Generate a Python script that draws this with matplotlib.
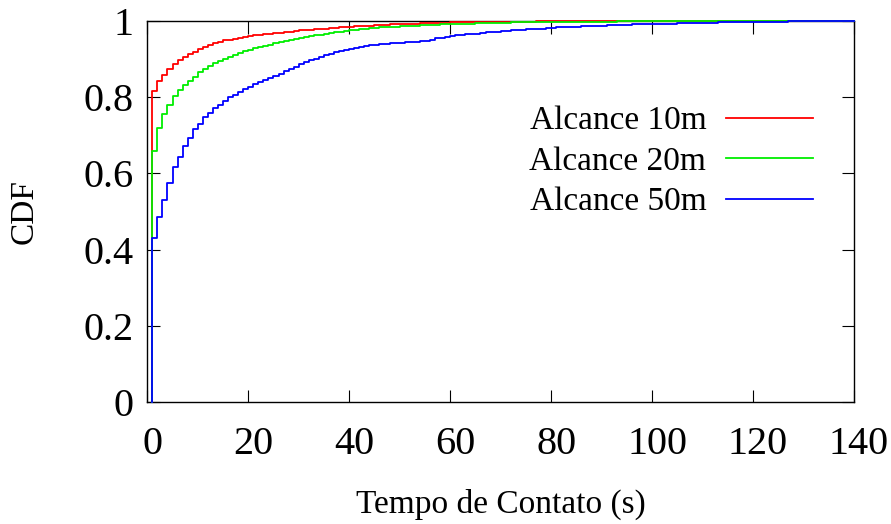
import matplotlib
matplotlib.use("Agg")
import matplotlib.pyplot as plt
from matplotlib.ticker import FormatStrFormatter
from matplotlib.transforms import ScaledTranslation

plt.rcParams['font.family'] = ['Liberation Serif', 'DejaVu Serif']

# contact time in seconds (1 s bins)
tempo = list(range(1, 141))

cdf_10m = [
    0.816, 0.843, 0.858, 0.874, 0.888, 0.898, 0.906, 0.912, 0.919, 0.926,
    0.932, 0.938, 0.943, 0.946, 0.949, 0.951, 0.953, 0.956, 0.958, 0.960,
    0.962, 0.963, 0.965, 0.966, 0.968, 0.969, 0.971, 0.972, 0.973, 0.975,
    0.976, 0.977, 0.978, 0.979, 0.980, 0.981, 0.982, 0.983, 0.984, 0.985,
    0.986, 0.987, 0.987, 0.988, 0.989, 0.990, 0.990, 0.991, 0.991, 0.992,
    0.992, 0.993, 0.993, 0.994, 0.994, 0.994, 0.995, 0.995, 0.995, 0.996,
    0.996, 0.996, 0.996, 0.997, 0.997, 0.997, 0.997, 0.997, 0.998, 0.998,
    0.998, 0.998, 0.998, 0.998, 0.998, 0.998, 0.999, 0.999, 0.999, 0.999,
    0.999, 0.999, 0.999, 0.999, 0.999, 0.999, 0.999, 0.999, 0.999, 0.999,
    0.999, 0.999, 0.999, 0.999, 0.999, 0.999, 0.999, 0.999, 0.999, 0.999,
    0.999, 0.999, 0.999, 0.999, 0.999, 0.999, 0.999, 0.999, 0.999, 0.999,
    0.999, 0.999, 0.999, 0.999, 0.999, 0.999, 0.999, 0.999, 0.999, 0.999,
    0.999, 0.999, 0.999, 0.999, 0.999, 0.999, 0.999, 0.999, 1.000, 1.000,
    1.000, 1.000, 1.000, 1.000, 1.000, 1.000, 1.000, 1.000, 1.000, 1.000,
]

cdf_20m = [
    0.660, 0.718, 0.755, 0.780, 0.802, 0.819, 0.831, 0.843, 0.854, 0.866,
    0.875, 0.882, 0.889, 0.895, 0.901, 0.906, 0.911, 0.916, 0.920, 0.924,
    0.928, 0.931, 0.935, 0.938, 0.942, 0.945, 0.947, 0.950, 0.953, 0.955,
    0.957, 0.960, 0.962, 0.964, 0.967, 0.969, 0.971, 0.972, 0.974, 0.976,
    0.977, 0.978, 0.979, 0.981, 0.982, 0.983, 0.984, 0.985, 0.985, 0.986,
    0.987, 0.987, 0.988, 0.989, 0.989, 0.990, 0.990, 0.991, 0.991, 0.992,
    0.992, 0.993, 0.993, 0.993, 0.994, 0.994, 0.994, 0.995, 0.995, 0.995,
    0.995, 0.996, 0.996, 0.996, 0.996, 0.997, 0.997, 0.997, 0.997, 0.997,
    0.998, 0.998, 0.998, 0.998, 0.998, 0.998, 0.998, 0.998, 0.998, 0.998,
    0.998, 0.998, 0.999, 0.999, 0.999, 0.999, 0.999, 0.999, 0.999, 0.999,
    0.999, 0.999, 0.999, 0.999, 0.999, 0.999, 0.999, 0.999, 0.999, 1.000,
    1.000, 1.000, 1.000, 1.000, 1.000, 1.000, 1.000, 1.000, 1.000, 1.000,
    1.000, 1.000, 1.000, 1.000, 1.000, 1.000, 1.000, 1.000, 1.000, 1.000,
    1.000, 1.000, 1.000, 1.000, 1.000, 1.000, 1.000, 1.000, 1.000, 1.000,
]

cdf_50m = [
    0.431, 0.486, 0.530, 0.574, 0.618, 0.644, 0.672, 0.694, 0.716, 0.729,
    0.747, 0.759, 0.771, 0.780, 0.790, 0.800, 0.807, 0.814, 0.821, 0.828,
    0.834, 0.840, 0.845, 0.850, 0.855, 0.862, 0.868, 0.874, 0.880, 0.886,
    0.892, 0.897, 0.901, 0.906, 0.910, 0.914, 0.918, 0.921, 0.924, 0.927,
    0.930, 0.932, 0.934, 0.936, 0.938, 0.939, 0.940, 0.941, 0.942, 0.943,
    0.944, 0.945, 0.946, 0.947, 0.948, 0.950, 0.954, 0.956, 0.958, 0.960,
    0.962, 0.963, 0.965, 0.966, 0.967, 0.969, 0.970, 0.971, 0.972, 0.973,
    0.974, 0.975, 0.976, 0.977, 0.978, 0.979, 0.980, 0.980, 0.981, 0.982,
    0.983, 0.983, 0.984, 0.985, 0.985, 0.986, 0.987, 0.987, 0.988, 0.988,
    0.989, 0.989, 0.990, 0.990, 0.990, 0.991, 0.991, 0.991, 0.992, 0.992,
    0.992, 0.993, 0.993, 0.993, 0.994, 0.994, 0.994, 0.994, 0.995, 0.995,
    0.995, 0.995, 0.996, 0.996, 0.996, 0.996, 0.997, 0.997, 0.997, 0.997,
    0.997, 0.998, 0.998, 0.998, 0.998, 0.998, 0.999, 0.999, 0.999, 0.999,
    0.999, 0.999, 0.999, 0.999, 0.999, 0.999, 0.999, 1.000, 1.000, 1.000,
]

series = [
    ("Alcance 10m", cdf_10m, "#ff0000"),
    ("Alcance 20m", cdf_20m, "#00ee00"),
    ("Alcance 50m", cdf_50m, "#0000ff"),
]

fig = plt.figure(figsize=(8.91, 5.24), dpi=100)
ax = fig.add_axes([0.1653, 0.2328, 0.7932, 0.7272])

for label, cdf, color in series:
    # start each staircase from zero at the first bin
    xs = [tempo[0]] + tempo + [140]
    ys = [0.0] + cdf + [cdf[-1]]
    ax.step(xs, ys, where='post', color=color, lw=1.3, label=label,
            zorder=3, clip_on=False)

ax.set_xlim(0, 140)
ax.set_ylim(0, 1)
ax.set_xticks(range(0, 141, 20))
ax.set_yticks([0, 0.2, 0.4, 0.6, 0.8, 1.0])
ax.yaxis.set_major_formatter(FormatStrFormatter('%g'))

ax.tick_params(direction='in', length=9, width=0.8, top=True, right=True,
               labelsize=29, color='black')
ax.tick_params(axis='x', pad=17)
ax.tick_params(axis='y', pad=10)
for sp in ax.spines.values():
    sp.set_linewidth(1.0)

# x tick labels sit slightly right of their ticks
shift = ScaledTranslation(5 / 100, 0, fig.dpi_scale_trans)
for lab in ax.get_xticklabels():
    lab.set_transform(lab.get_transform() + shift)

ax.set_xlabel("Tempo de Contato (s)", fontsize=24, labelpad=19)
ax.set_ylabel("CDF", fontsize=24, labelpad=31)

ax.legend(loc='upper right', bbox_to_anchor=(0.942, 0.777), frameon=False,
          markerfirst=False, fontsize=24, handlelength=2.6, handletextpad=0.6,
          borderpad=0, borderaxespad=0, labelspacing=0.3)

fig.savefig("out.png", dpi=100)
